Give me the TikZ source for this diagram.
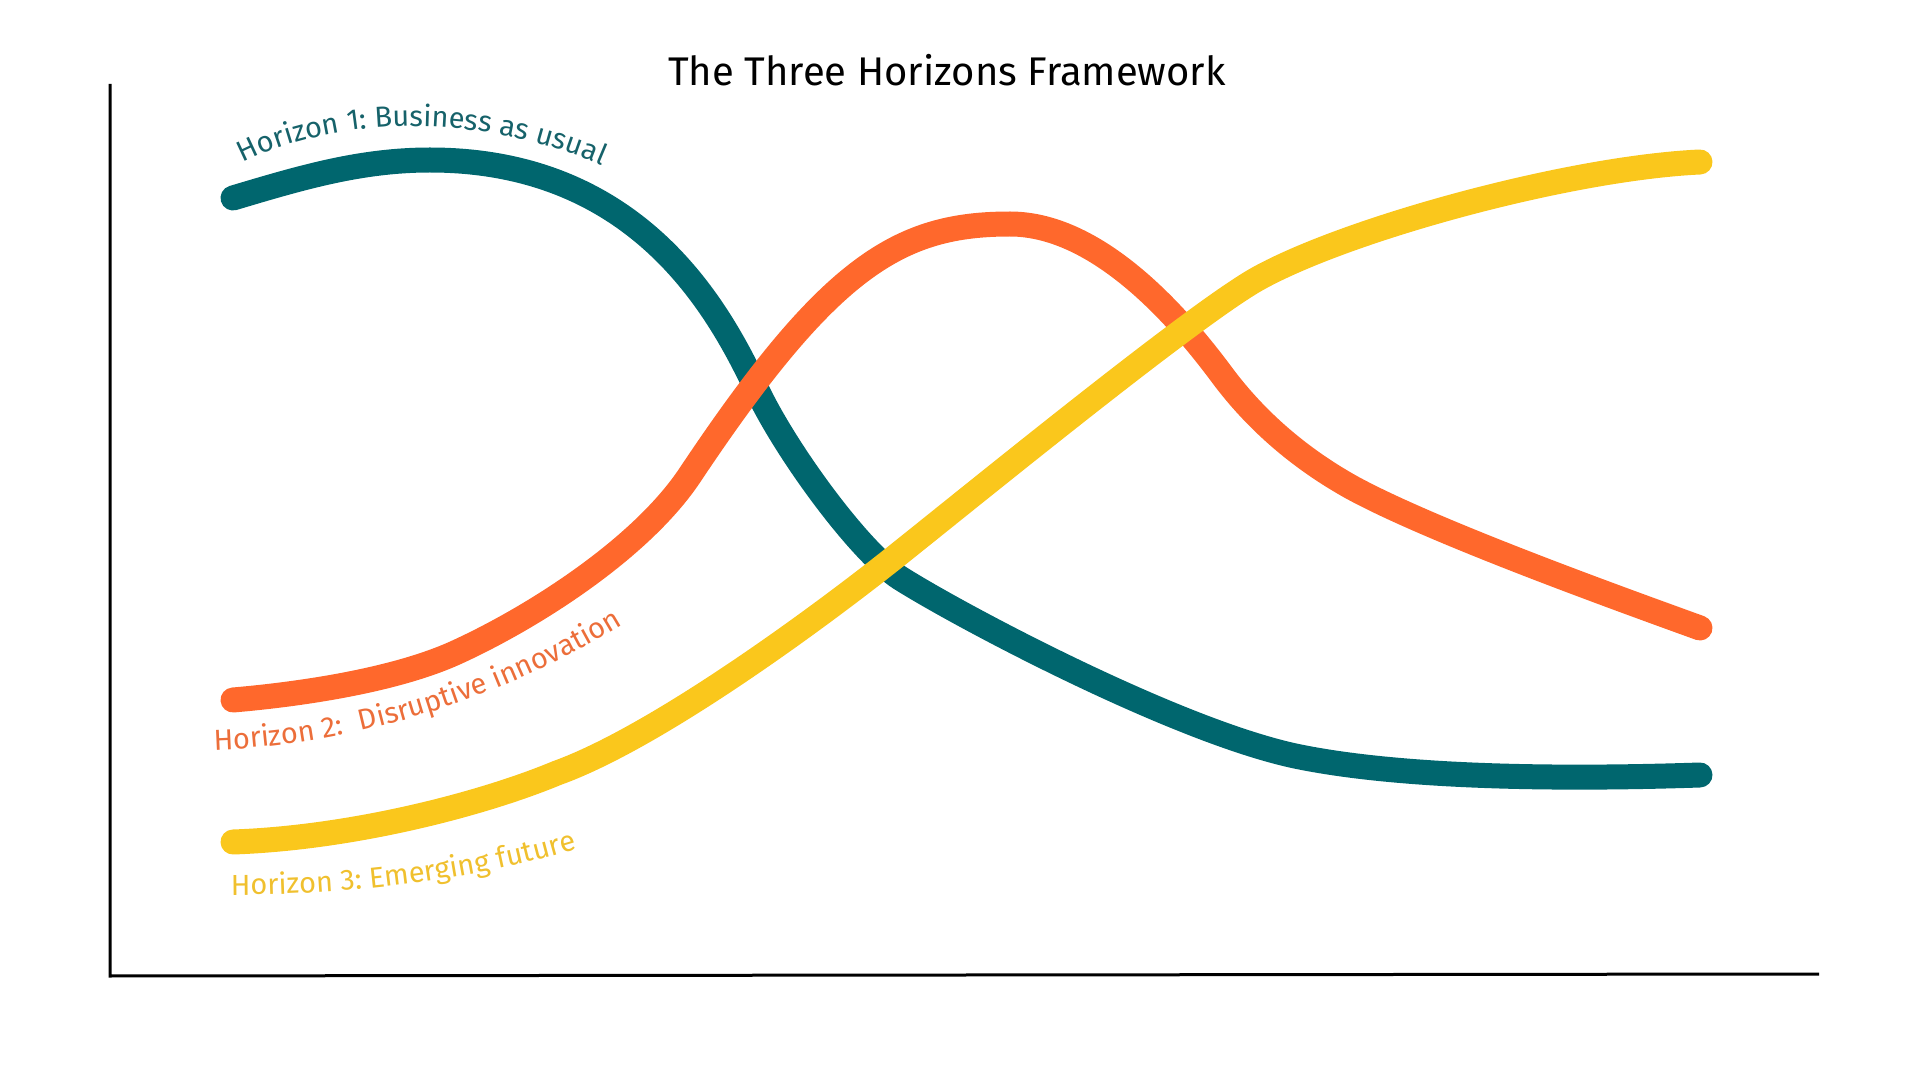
\documentclass[tikz,border=0pt]{standalone}
\usepackage{fontspec}
\setmainfont{Fira Sans}
\usepackage{xcolor}
\usetikzlibrary{decorations.text}

\definecolor{hone}{RGB}{0,102,110}
\definecolor{htwo}{RGB}{255,104,44}
\definecolor{hthree}{RGB}{250,199,28}
\definecolor{honetext}{RGB}{22,98,106}
\definecolor{htwotext}{RGB}{236,110,58}
\definecolor{hthreetext}{RGB}{240,192,46}

\begin{document}
\begin{tikzpicture}[
            x=0.25pt, y=-0.25pt,
            declare function={
                Width=1920;
                Height=1080;
            },
            horizon/.style={line width=6.25pt, line cap=round, line join=round},
            curvelabel/.style 2 args={decorate, decoration={text along path, text align=left, text color=#1,
                text={|\fontsize{7.25}{8}\selectfont|#2}}}
        ]

            \useasboundingbox (0, 0) rectangle (Width, Height);

            \draw[horizon, hone] (233,198) .. controls (300,178) and (360,160) .. (430,160)
                .. controls (640,160) and (720,312) .. (757,390)
                .. controls (787,453) and (860,552) .. (900,578)
                .. controls (960,616) and (1180,733) .. (1300,757)
                .. controls (1400,777) and (1550,780) .. (1700,775);
            \draw[horizon, htwo] (233,700) .. controls (303,694) and (395,680) .. (455,653)
                .. controls (530,619) and (640,550) .. (690,475)
                .. controls (830,265) and (900,224) .. (1010,224)
                .. controls (1100,224) and (1182,321) .. (1222,375)
                .. controls (1257,422) and (1301,459) .. (1351,487)
                .. controls (1431,531) and (1620,599) .. (1700,628);
            \draw[horizon, hthree] (233,842) .. controls (350,838) and (480,805) .. (557,773)
                .. controls (657,737) and (820,617) .. (900,553)
                .. controls (1000,473) and (1199,311) .. (1259,278)
                .. controls (1350,228) and (1570,168) .. (1700,162);

            \path[curvelabel={honetext}{Horizon 1: Business as usual}] (243,163) .. controls (330,118) and (500,100) .. (660,195);
            \path[curvelabel={htwotext}{Horizon 2:{\hspace*{2.25pt}} Disruptive innovation}] (214,750) .. controls (380,745) and (560,680) .. (700,572);
            \path[curvelabel={hthreetext}{Horizon 3: Emerging future}] (231,895) .. controls (380,895) and (530,872) .. (640,826);

            \node[anchor=base, font=\fontsize{10}{11}\selectfont] (title) at (947, 86) {The Three Horizons Framework};

            \coordinate (ytop) at (110, 84);
            \coordinate (origin) at (110, 976);
            \coordinate (xend) at (1819, 974);
            \draw[line width=0.75pt] (ytop) -- (origin) -- (xend);
        \end{tikzpicture}
\end{document}
